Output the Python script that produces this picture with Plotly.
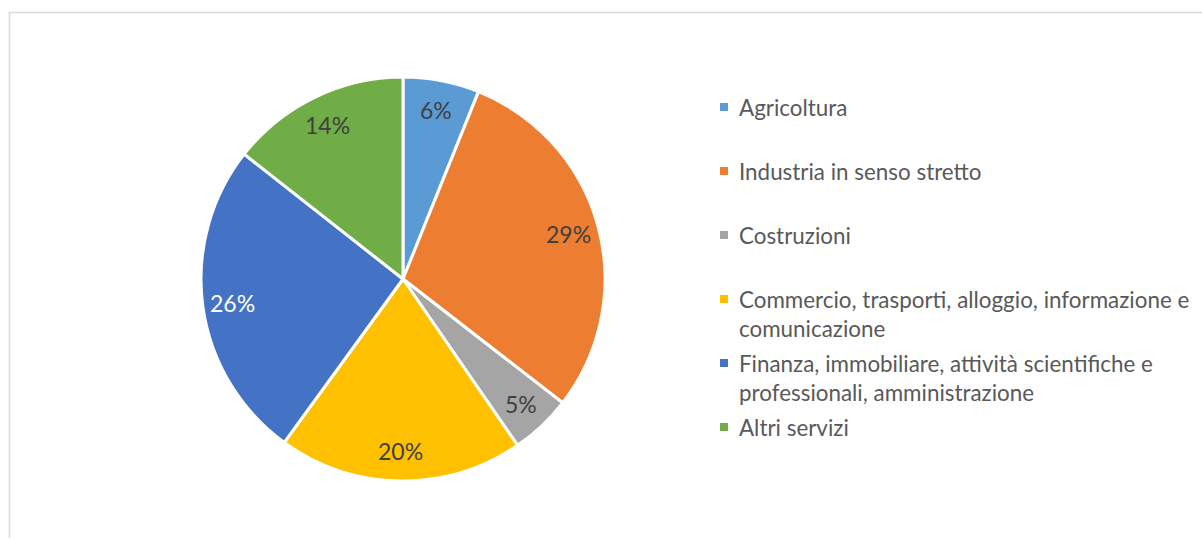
import plotly.graph_objects as go
import math

W, H = 1202, 538

categories = [
    "Agricoltura",
    "Industria in senso stretto",
    "Costruzioni",
    "Commercio, trasporti, alloggio, informazione e comunicazione",
    "Finanza, immobiliare, attività scientifiche e professionali, amministrazione",
    "Altri servizi",
]
legend_labels = [
    "Agricoltura",
    "Industria in senso stretto",
    "Costruzioni",
    "Commercio, trasporti, alloggio, informazione e<br>comunicazione",
    "Finanza, immobiliare, attività scientifiche e<br>professionali, amministrazione",
    "Altri servizi",
]
values = [6.1, 29.4, 4.9, 19.6, 25.6, 14.4]

colors = ["#5B9BD5", "#ED7D31", "#A5A5A5", "#FFC000", "#4472C4", "#70AD47"]
label_colors = ["#404040", "#404040", "#404040", "#404040", "#FFFFFF", "#404040"]

FONT = "Lato"

# pie geometry in pixels
cx, cy, R = 403, 279, 202


def px(x):
    return x / W


def py(y):
    return 1 - y / H


fig = go.Figure()
fig.add_trace(go.Pie(
    labels=categories,
    values=values,
    sort=False,
    direction="clockwise",
    rotation=0,
    marker=dict(colors=colors, line=dict(color="white", width=3)),
    textinfo="none",
    showlegend=False,
    domain=dict(x=[px(cx - R), px(cx + R)], y=[py(cy + R), py(cy - R)]),
))

annotations = []
total = sum(values)
cum = 0.0
for v, c in zip(values, label_colors):
    mid = (cum + v / 2) / total
    cum += v
    ang = 2 * math.pi * mid
    r = 0.85 * R
    x = cx + r * math.sin(ang)
    y = cy - r * math.cos(ang)
    annotations.append(dict(
        x=px(x), y=py(y), xref="paper", yref="paper",
        text=f"{round(100 * v / total)}%", showarrow=False,
        font=dict(family=FONT, size=23, color=c),
        xanchor="center", yanchor="middle",
    ))

shapes = []
leg_x_marker = 720
leg_x_text = 737
leg_y0 = 107
leg_step = 64
for i, (lab, col) in enumerate(zip(legend_labels, colors)):
    yc = leg_y0 + leg_step * i
    shapes.append(dict(
        type="rect", xref="paper", yref="paper",
        x0=px(leg_x_marker), x1=px(leg_x_marker + 8),
        y0=py(yc + 4), y1=py(yc - 4),
        fillcolor=col, line=dict(width=0),
    ))
    annotations.append(dict(
        x=px(leg_x_text), y=py(yc - 15), xref="paper", yref="paper",
        text=lab, showarrow=False, align="left",
        font=dict(family=FONT, size=22.4, color="#595959"),
        xanchor="left", yanchor="top",
    ))

# chart area border
shapes.append(dict(
    type="rect", xref="paper", yref="paper",
    x0=px(9.5), x1=px(1230), y0=py(560), y1=py(12.5),
    line=dict(color="#D9D9D9", width=1.5), fillcolor="rgba(0,0,0,0)",
))

fig.update_layout(
    width=W, height=H,
    margin=dict(l=0, r=0, t=0, b=0),
    paper_bgcolor="white",
    plot_bgcolor="white",
    annotations=annotations,
    shapes=shapes,
    font=dict(family=FONT),
)

fig.write_html(
    "out.html",
    config={"displayModeBar": False},
    post_script="document.body.style.margin='0';document.body.style.overflow='hidden';",
)
